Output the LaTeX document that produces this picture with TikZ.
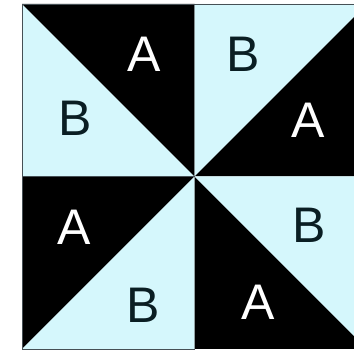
\documentclass[tikz,border=0pt]{standalone}
\usepackage{fontspec}
\setmainfont{Liberation Sans}
\definecolor{lightcyan}{RGB}{213,247,252}
\definecolor{darktext}{RGB}{10,30,35}
\definecolor{edgegray}{RGB}{70,80,85}
\begin{document}
\begin{tikzpicture}[x=1pt,y=-1pt,
  cyanfill/.style={fill=lightcyan},
  blackfill/.style={fill=black},
  letterA/.style={text=white,font=\fontsize{50}{50}\selectfont,inner sep=0pt},
  letterB/.style={text=darktext,font=\fontsize{50}{50}\selectfont,inner sep=0pt},
  sqedge/.style={draw=edgegray,line width=0.9pt}]
\useasboundingbox (0,0) rectangle (354,350);
\clip (0,0) rectangle (354,350);
% corner coordinates
\coordinate (tl) at (22,4);
\coordinate (tm) at (194.5,4);
\coordinate (tr) at (367,4);
\coordinate (ml) at (22,176.5);
\coordinate (c) at (194.5,176.5);
\coordinate (mr) at (367,176.5);
\coordinate (bl) at (22,349);
\coordinate (bm) at (194.5,349);
\coordinate (br) at (367,349);
% top-left square
\fill[cyanfill] (tl) -- (c) -- (ml) -- cycle;
\fill[blackfill] (tl) -- (tm) -- (c) -- cycle;
% top-right square
\fill[cyanfill] (tm) -- (tr) -- (c) -- cycle;
\fill[blackfill] (tr) -- (mr) -- (c) -- cycle;
% bottom-left square
\fill[blackfill] (ml) -- (c) -- (bl) -- cycle;
\fill[cyanfill] (c) -- (bm) -- (bl) -- cycle;
% bottom-right square
\fill[blackfill] (c) -- (br) -- (bm) -- cycle;
\fill[cyanfill] (c) -- (mr) -- (br) -- cycle;
% edges
\draw[sqedge] (tm) -- (tl) -- (bl) -- (bm);
\draw[sqedge] (ml) -- (c);
\draw[sqedge] (tm) -- (tr);
% labels
\node[letterA] (a1) at (144,54) {A};
\node[letterB] (b1) at (75,118) {B};
\node[letterB] (b2) at (243,54) {B};
\node[letterA] (a2) at (308,120) {A};
\node[letterA] (a3) at (74,227) {A};
\node[letterB] (b3) at (143,305) {B};
\node[letterB] (b4) at (309,225) {B};
\node[letterA] (a4) at (258,302) {A};
\end{tikzpicture}
\end{document}
